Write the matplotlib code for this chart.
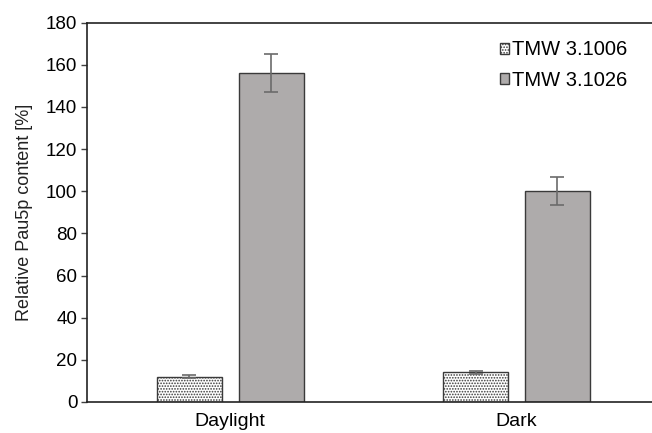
import matplotlib
matplotlib.use("Agg")
import matplotlib.pyplot as plt
import numpy as np

plt.rcParams["font.family"] = ["Liberation Sans", "DejaVu Sans"]
plt.rcParams["hatch.color"] = "#b5b5b5"
plt.rcParams["hatch.linewidth"] = 0.8

categories = ["Daylight", "Dark"]
strains = ["TMW 3.1006", "TMW 3.1026"]
tmw_1006 = [12.0, 14.0]
tmw_1006_err = [0.8, 0.8]
tmw_1026 = [156.2, 100.2]
tmw_1026_err = [9.0, 6.8]
y_ticks = [0, 20, 40, 60, 80, 100, 120, 140, 160, 180]

fig = plt.figure(figsize=(6.52, 4.33), dpi=100)
axis = fig.add_axes([0.1334, 0.0716, 0.866, 0.876])

x_values = np.arange(len(categories))
width = 0.227
offset = 0.143
err_style = dict(ecolor="#6b6b6b", elinewidth=1.2, capsize=5, capthick=1.2)

axis.bar(x_values - offset, tmw_1006, width, yerr=tmw_1006_err, color="white",
         edgecolor="#3a3a3a", linewidth=1.0, hatch="......", label=strains[0],
         error_kw=err_style, zorder=2)
axis.bar(x_values + offset, tmw_1026, width, yerr=tmw_1026_err, color="#aeabab",
         edgecolor="#3a3a3a", linewidth=1.0, label=strains[1],
         error_kw=err_style, zorder=2)

axis.set_xlim(-0.5, 1.472)
axis.set_ylim(0, 180)
axis.set_yticks(y_ticks)
axis.set_xticks(x_values)
axis.set_xticklabels(categories, fontsize=14)
axis.tick_params(axis="y", labelsize=13.5, length=4, width=1, color="#404040", pad=3)
axis.tick_params(axis="x", length=0, pad=8)
axis.set_ylabel("Relative Pau5p content [%]", fontsize=13, color="#222222", labelpad=9)

for side in ["left", "bottom", "top"]:
    axis.spines[side].set_color("#222222")
    axis.spines[side].set_linewidth(1.2)
axis.spines["right"].set_visible(False)

axis.legend(loc="upper right", frameon=False, fontsize=14.5, handlelength=0.45,
            handleheight=0.45, handletextpad=0.15, labelspacing=0.55,
            borderaxespad=0.2, bbox_to_anchor=(0.978, 0.985))

fig.savefig("out.png", dpi=100)
